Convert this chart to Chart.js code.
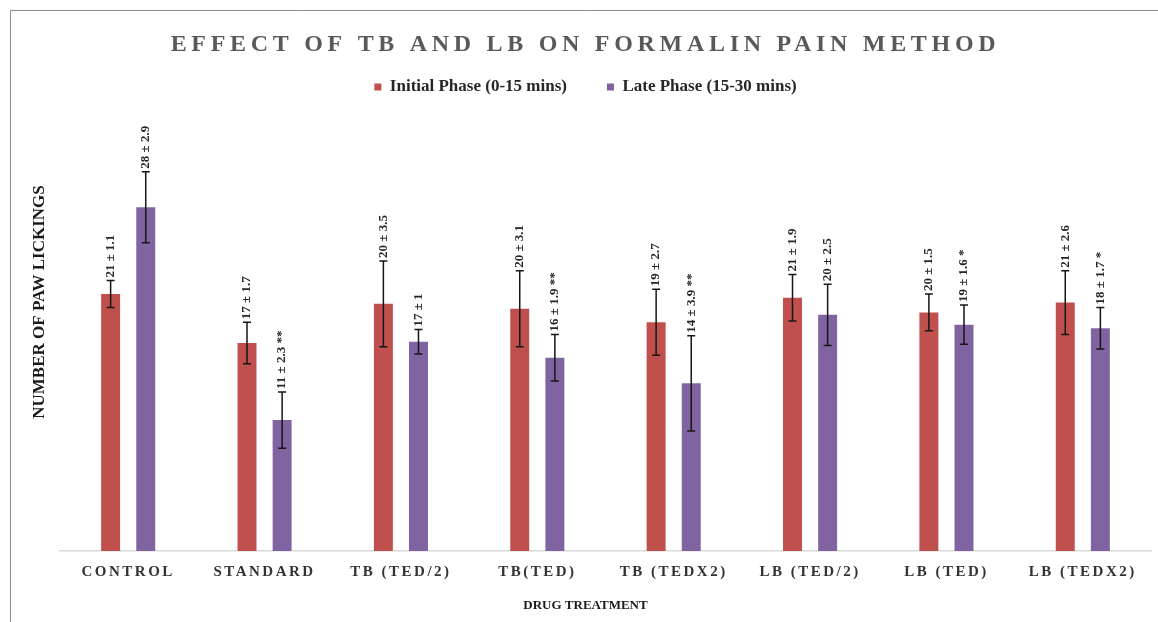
<!DOCTYPE html>
<html>
<head>
<meta charset="utf-8">
<title>Effect of TB and LB on formalin pain method</title>
<script src="https://cdn.jsdelivr.net/npm/chart.js@4.4.1/dist/chart.umd.min.js"></script>
<style>
    body { margin: 0; background: #fff; }
    canvas { display: block; }
</style>
</head>
<body>
<canvas id="formalinChart" width="1158" height="622"></canvas>
<script>
// Data
const treatments = ['CONTROL', 'STANDARD', 'TB (TED/2)', 'TB(TED)', 'TB (TEDX2)', 'LB (TED/2)', 'LB (TED)', 'LB (TEDX2)'];

const initialMean = [21, 17, 20.2, 19.8, 18.7, 20.7, 19.5, 20.3];
const initialSd = [1.1, 1.7, 3.5, 3.1, 2.7, 1.9, 1.5, 2.6];
const initialText = ['21 ± 1.1', '17 ± 1.7', '20 ± 3.5', '20 ± 3.1', '19 ± 2.7', '21 ± 1.9', '20 ± 1.5', '21 ± 2.6'];

const lateMean = [28.1, 10.7, 17.1, 15.8, 13.7, 19.3, 18.5, 18.2];
const lateSd = [2.9, 2.3, 1, 1.9, 3.9, 2.5, 1.6, 1.7];
const lateText = ['28 ± 2.9', '11 ± 2.3 **', '17 ± 1', '16 ± 1.9 **', '14 ± 3.9 **', '20 ± 2.5', '19 ± 1.6 *', '18 ± 1.7 *'];

const serif = '"Liberation Serif", "Times New Roman", serif';

// Frame round the picture + white background
const framePlugin = {
    id: 'frame',
    beforeDraw(chart) {
        const ctx = chart.ctx;
        ctx.save();
        ctx.fillStyle = '#fff';
        ctx.fillRect(0, 0, chart.width, chart.height);
        ctx.strokeStyle = '#8c8c8c';
        ctx.lineWidth = 1;
        ctx.beginPath();
        ctx.moveTo(10.5, chart.height);
        ctx.lineTo(10.5, 10.5);
        ctx.lineTo(chart.width, 10.5);
        ctx.stroke();
        ctx.restore();

        // letter spaced title and category labels
        const x = chart.scales.x;
        if (x && !x._spaced) {
            const drawLabels = x.drawLabels;
            x.drawLabels = function (area) {
                this.ctx.save();
                this.ctx.letterSpacing = '2.5px';
                drawLabels.call(this, area);
                this.ctx.restore();
            };
            x._spaced = true;
        }
        const t = chart.titleBlock;
        if (t && !t._spaced) {
            const drawTitle = t.draw;
            t.draw = function (area) {
                this.ctx.save();
                this.ctx.letterSpacing = '4.7px';
                drawTitle.call(this, area);
                this.ctx.restore();
            };
            t._spaced = true;
        }
    },
    afterDraw(chart) {
        // y axis title
        const ctx = chart.ctx;
        ctx.save();
        ctx.translate(40, 302);
        ctx.rotate(-Math.PI / 2);
        ctx.font = 'bold 17px ' + serif;
        ctx.fillStyle = '#1a1a1a';
        ctx.textAlign = 'center';
        ctx.textBaseline = 'middle';
        ctx.fillText('NUMBER OF PAW LICKINGS', 0, 0);
        ctx.restore();
    }
};

// Error bars (mean ± SD) and the rotated value labels
const errorBarPlugin = {
    id: 'errorBars',
    afterDatasetsDraw(chart) {
        const ctx = chart.ctx;
        const y = chart.scales.y;
        chart.data.datasets.forEach((ds, i) => {
            const meta = chart.getDatasetMeta(i);
            meta.data.forEach((bar, j) => {
                const top = y.getPixelForValue(ds.data[j] + ds.sd[j]);
                const bottom = y.getPixelForValue(ds.data[j] - ds.sd[j]);
                ctx.save();
                ctx.strokeStyle = '#161616';
                ctx.lineWidth = 1.5;
                ctx.beginPath();
                ctx.moveTo(bar.x, top);
                ctx.lineTo(bar.x, bottom);
                ctx.moveTo(bar.x - 4, top);
                ctx.lineTo(bar.x + 4, top);
                ctx.moveTo(bar.x - 4, bottom);
                ctx.lineTo(bar.x + 4, bottom);
                ctx.stroke();

                ctx.translate(bar.x, top - 3);
                ctx.rotate(-Math.PI / 2);
                ctx.font = 'bold 13px ' + serif;
                ctx.fillStyle = '#262626';
                ctx.textAlign = 'left';
                ctx.textBaseline = 'middle';
                ctx.fillText(ds.valueText[j], 0, 0);
                ctx.restore();
            });
        });
    }
};

const ctx = document.getElementById('formalinChart').getContext('2d');
new Chart(ctx, {
    type: 'bar',
    data: {
        labels: treatments,
        datasets: [{
            label: 'Initial Phase (0-15 mins)',
            data: initialMean,
            sd: initialSd,
            valueText: initialText,
            backgroundColor: '#C0504D'
        }, {
            label: 'Late Phase (15-30 mins)',
            data: lateMean,
            sd: lateSd,
            valueText: lateText,
            backgroundColor: '#8064A2'
        }]
    },
    options: {
        responsive: false,
        animation: false,
        datasets: {
            bar: { categoryPercentage: 0.515, barPercentage: 0.54 }
        },
        layout: { padding: { left: 20, right: 7, top: 0, bottom: 0 } },
        scales: {
            x: {
                grid: { display: false, drawTicks: false },
                border: { display: true, color: '#d9d9d9', width: 1.5 },
                ticks: {
                    padding: 12,
                    maxRotation: 0,
                    autoSkip: false,
                    color: '#333',
                    font: { family: serif, size: 15, weight: 'bold' }
                }
            },
            y: {
                min: 0,
                max: 36.4,
                grid: { display: false },
                border: { display: false },
                ticks: { display: false },
                afterFit: (scale) => { scale.width = 40; }
            }
        },
        plugins: {
            title: {
                display: true,
                text: 'EFFECT OF TB AND LB ON FORMALIN PAIN METHOD',
                color: '#595959',
                // short line box so the wide legend padding fits under it
                font: { family: serif, size: 24, weight: 'bold', lineHeight: 0.3 },
                padding: { top: 41.4, bottom: -10 }
            },
            subtitle: {
                display: true,
                position: 'bottom',
                text: 'DRUG TREATMENT',
                color: '#1a1a1a',
                font: { family: serif, size: 13, weight: 'bold' },
                padding: { top: 5.2, bottom: 8.2 }
            },
            legend: {
                position: 'top',
                labels: {
                    boxWidth: 7,
                    boxHeight: 7,
                    padding: 40,
                    color: '#262626',
                    font: { family: serif, size: 17, weight: 'bold' }
                }
            },
            tooltip: { enabled: false }
        }
    },
    plugins: [framePlugin, errorBarPlugin]
});
</script>
</body>
</html>
